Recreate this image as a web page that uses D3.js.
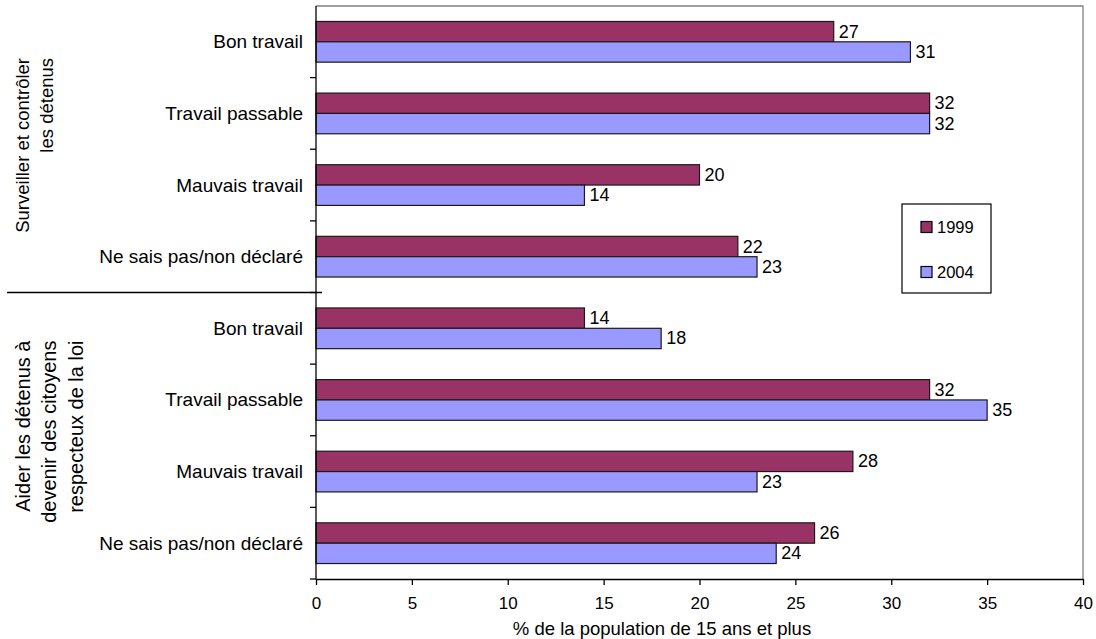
<!DOCTYPE html>
<html>
<head>
<meta charset="utf-8">
<script src="https://cdn.jsdelivr.net/npm/d3@7"></script>
<style>
  html, body { margin: 0; padding: 0; background: #fff; }
  svg { display: block; font-family: "Liberation Sans", Arial, sans-serif; }
</style>
</head>
<body>
<svg id="chart" width="1096" height="639"></svg>
<script>
// Survey answers, two question groups, four ratings each
const groupTitles = [
  ["Surveiller et contrôler", "les détenus"],
  ["Aider les détenus à", "devenir des citoyens", "respecteux de la loi"]
];
const ratings = ["Bon travail", "Travail passable", "Mauvais travail", "Ne sais pas/non déclaré"];
const seriesNames = ["1999", "2004"];
const values1999 = [27, 32, 20, 22, 14, 32, 28, 26];
const values2004 = [31, 32, 14, 23, 18, 35, 23, 24];
const xTicks = [0, 5, 10, 15, 20, 25, 30, 35, 40];
const axisTitle = "% de la population de 15 ans et plus";

const colors = { "1999": "#993366", "2004": "#9999FF" };

// Build one row per (group, rating)
const rows = [];
groupTitles.forEach((g, gi) => {
  ratings.forEach((r, ri) => {
    const i = gi * ratings.length + ri;
    rows.push({ key: gi + "|" + r, group: gi, label: r,
      vals: [{ s: "1999", v: values1999[i] }, { s: "2004", v: values2004[i] }] });
  });
});

const svg = d3.select("#chart");
const plot = { left: 316, right: 1083, top: 6, bottom: 579 };

const x = d3.scaleLinear().domain([0, 40]).range([plot.left, plot.right]);
const y = d3.scaleBand().domain(rows.map(d => d.key)).range([plot.top, plot.bottom]).padding(0);
const ySub = d3.scaleBand().domain(seriesNames).range([0, y.bandwidth()]).paddingInner(0).paddingOuter(0.76);

// Plot area frame (top and right in grey)
svg.append("path")
  .attr("d", `M${plot.left},${plot.top}H${plot.right}V${plot.bottom}`)
  .attr("fill", "none").attr("stroke", "#808080").attr("stroke-width", 1.3);

// Bars
const rowG = svg.append("g").selectAll("g").data(rows).join("g")
  .attr("transform", d => `translate(0,${y(d.key)})`);

rowG.selectAll("rect").data(d => d.vals).join("rect")
  .attr("x", x(0))
  .attr("y", d => ySub(d.s))
  .attr("width", d => x(d.v) - x(0))
  .attr("height", ySub.bandwidth())
  .attr("fill", d => colors[d.s])
  .attr("stroke", "#1a1a1a").attr("stroke-width", 1.2);

// Value labels
rowG.selectAll("text").data(d => d.vals).join("text")
  .attr("x", d => x(d.v) + 5)
  .attr("y", d => ySub(d.s) + ySub.bandwidth() / 2)
  .attr("dominant-baseline", "central")
  .attr("font-size", 18)
  .attr("fill", "#000")
  .text(d => d3.format(".0f")(d.v));

// Category labels
svg.append("g").selectAll("text").data(rows).join("text")
  .attr("x", plot.left - 13)
  .attr("y", d => y(d.key) + y.bandwidth() / 2)
  .attr("text-anchor", "end")
  .attr("dominant-baseline", "central")
  .attr("font-size", 19)
  .text(d => d.label);

// Left axis with ticks at row boundaries
const bounds = rows.map(d => y(d.key)).slice(1).concat([plot.bottom]);
svg.append("line")
  .attr("x1", plot.left).attr("x2", plot.left)
  .attr("y1", plot.top).attr("y2", plot.bottom)
  .attr("stroke", "#000").attr("stroke-width", 1.3);
svg.append("g").selectAll("line").data(bounds).join("line")
  .attr("x1", plot.left - 6).attr("x2", plot.left)
  .attr("y1", d => d).attr("y2", d => d)
  .attr("stroke", "#000").attr("stroke-width", 1.3);

// Bottom axis
const xAxis = svg.append("g")
  .attr("transform", `translate(0,${plot.bottom})`)
  .call(d3.axisBottom(x).tickValues(xTicks).tickSize(6).tickPadding(12).tickSizeOuter(0));
xAxis.select(".domain").attr("stroke", "#000").attr("stroke-width", 1.3);
xAxis.selectAll(".tick line").attr("stroke", "#000").attr("stroke-width", 1.3);
xAxis.selectAll(".tick text")
  .attr("font-family", "Liberation Sans, Arial, sans-serif")
  .attr("font-size", 17).attr("fill", "#000");

// Axis title
svg.append("text")
  .attr("x", 662).attr("y", 635)
  .attr("text-anchor", "middle")
  .attr("font-size", 18.5)
  .text(axisTitle);

// Separator between the two question groups
const sepY = y(rows[ratings.length].key);
svg.append("line")
  .attr("x1", 7).attr("x2", plot.left + 6)
  .attr("y1", sepY).attr("y2", sepY)
  .attr("stroke", "#000").attr("stroke-width", 1.3);

// Rotated group titles
const groupStyle = [
  { x0: 22.5, step: 23.5, size: 18.5, top: 52 },
  { x0: 22.5, step: 26.5, size: 20, top: 48 }
];
groupTitles.forEach((lines, gi) => {
  const st = groupStyle[gi];
  const topY = y(rows[gi * ratings.length].key) + st.top;
  svg.append("g").selectAll("text").data(lines).join("text")
    .attr("transform", (d, i) => `translate(${st.x0 + i * st.step},${topY}) rotate(-90)`)
    .attr("text-anchor", "end")
    .attr("dominant-baseline", "central")
    .attr("font-size", st.size)
    .text(d => d);
});

// Legend
const legend = svg.append("g").attr("transform", "translate(902,204)");
legend.append("rect")
  .attr("width", 89).attr("height", 89)
  .attr("fill", "#fff").attr("stroke", "#000").attr("stroke-width", 1.2);
const legRow = legend.selectAll("g").data(seriesNames).join("g")
  .attr("transform", (d, i) => `translate(19,${23 + i * 45})`);
legRow.append("rect")
  .attr("y", -5.5).attr("width", 11).attr("height", 11)
  .attr("fill", d => colors[d]).attr("stroke", "#000").attr("stroke-width", 1.2);
legRow.append("text")
  .attr("x", 16).attr("y", 0)
  .attr("dominant-baseline", "central")
  .attr("font-size", 16.5)
  .text(d => d);
</script>
</body>
</html>
